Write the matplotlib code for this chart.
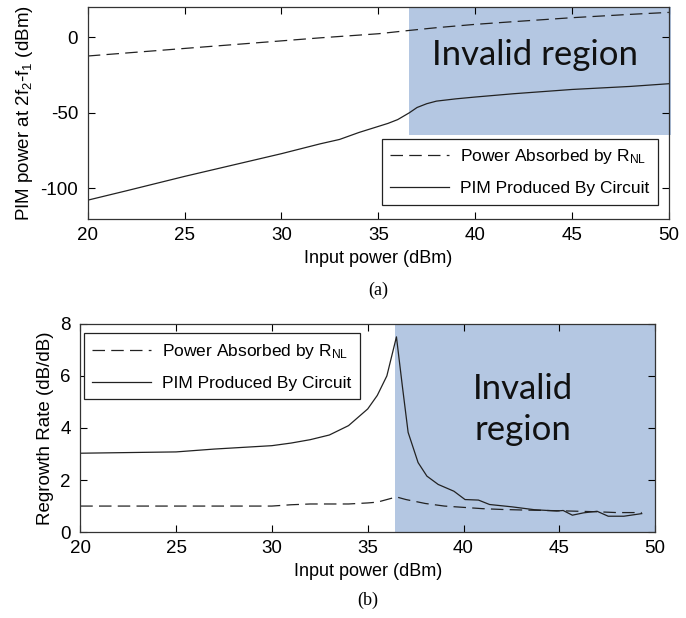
import matplotlib
matplotlib.use("Agg")
import matplotlib.pyplot as plt

# ---- data (a) ----
xa_dash = [20, 22, 25, 28, 30, 32, 35, 36.6, 38, 40, 42, 45, 48, 50]
ya_dash = [-12.5, -10.5, -7.5, -4.5, -2.5, -0.5, 2.2, 4.4, 6.2, 8.4, 10.2, 12.8, 15.0, 16.3]
xa_sol = [20, 22, 25, 28, 30, 32, 33, 34, 35, 35.5, 36, 36.6, 37, 37.5, 38, 39, 40, 42, 45, 48, 50]
ya_sol = [-107.7, -101.5, -92.0, -83.0, -77.0, -70.5, -67.6, -63.0, -59.0, -57.0, -54.5, -50.0, -46.5, -44.0, -42.3, -40.8, -39.6, -37.4, -34.6, -32.6, -30.8]

# ---- data (b) ----
xb_sol = [20, 25, 27, 30, 31, 32, 33, 34, 35, 35.5, 36, 36.5, 36.81, 37.11, 37.63, 38.09, 38.68, 39.5,
          40.08, 40.78, 41.36, 42.53, 43.7, 44.87, 45.2, 45.68, 46.27, 46.97, 47.55, 48.37, 49.3]
yb_sol = [3.03, 3.08, 3.19, 3.32, 3.42, 3.55, 3.73, 4.09, 4.73, 5.25, 6.0, 7.5, 5.6, 3.83, 2.67, 2.15, 1.83, 1.57,
          1.25, 1.23, 1.06, 0.97, 0.86, 0.81, 0.83, 0.65, 0.74, 0.80, 0.61, 0.61, 0.71]
xb_dash = [20, 25, 30, 31, 32, 34, 35, 35.5, 36.5, 37, 38, 39, 40, 41, 42, 43, 45, 46, 47, 48, 49.3]
yb_dash = [1.0, 1.0, 1.0, 1.05, 1.08, 1.08, 1.12, 1.15, 1.35, 1.25, 1.1, 1.0, 0.95, 0.9, 0.87, 0.85, 0.82, 0.8, 0.78, 0.75, 0.75]

labels = ["Power Absorbed by R$_{\\rm NL}$", "PIM Produced By Circuit"]
xticks = [20, 25, 30, 35, 40, 45, 50]

plt.rcParams['font.family'] = ['Liberation Sans', 'DejaVu Sans']
plt.rcParams['mathtext.fontset'] = 'custom'
plt.rcParams['mathtext.rm'] = 'Liberation Sans'
plt.rcParams['mathtext.it'] = 'Liberation Sans'
plt.rcParams['axes.unicode_minus'] = False

fig = plt.figure(figsize=(6.86, 6.18), dpi=100)
shade = '#b4c7e2'
lc = '#222222'

def style(ax):
    ax.tick_params(direction='in', top=True, right=True, labelsize=13.5, length=5, width=0.8)
    ax.tick_params(axis='x', pad=6)
    ax.tick_params(axis='y', pad=7)
    for s in ax.spines.values():
        s.set_linewidth(0.9)
        s.set_color('#333333')

# (a)
ax1 = fig.add_axes([0.128, 0.646, 0.847, 0.343])
ax1.axvspan(36.6, 50.1, ymin=(-65 + 120) / 140, ymax=1.0, color=shade, zorder=0, lw=0, clip_on=False)
ax1.plot(xa_dash, ya_dash, color=lc, lw=0.9, dashes=(10, 5), label=labels[0])
ax1.plot(xa_sol, ya_sol, color=lc, lw=0.9, label=labels[1])
ax1.set_xlim(20, 50)
ax1.set_ylim(-120, 20)
ax1.set_xticks(xticks)
ax1.set_yticks([-100, -50, 0])
ax1.set_xlabel("Input power (dBm)", fontsize=13)
ax1.set_ylabel("PIM power at 2f$_2$-f$_1$ (dBm)", fontsize=13.5, labelpad=4)
ax1.text(43.1, -12, "Invalid region", fontsize=25, family=['Lato', 'DejaVu Sans'],
         ha='center', va='center', color='#111111')
leg1 = ax1.legend(loc='lower right', fontsize=12.5, fancybox=False, framealpha=1,
                  edgecolor='#222222', handlelength=3.4, handletextpad=0.6, borderpad=0.5,
                  labelspacing=0.85, borderaxespad=0.0, bbox_to_anchor=(0.981, 0.066))
leg1.get_frame().set_linewidth(0.9)
style(ax1)
fig.text(0.5 * (0.128 + 0.974), 1 - 290 / 618, "(a)", ha='center', va='center',
         fontsize=13, family=['Liberation Serif', 'DejaVu Serif'])

# (b)
ax2 = fig.add_axes([0.117, 0.139, 0.838, 0.337])
ax2.axvspan(36.45, 50, color=shade, zorder=0, lw=0)
ax2.plot(xb_dash, yb_dash, color=lc, lw=0.9, dashes=(10, 5), label=labels[0])
ax2.plot(xb_sol, yb_sol, color=lc, lw=0.9, label=labels[1])
ax2.set_xlim(20, 50)
ax2.set_ylim(0, 8)
ax2.set_xticks(xticks)
ax2.set_yticks([0, 2, 4, 6, 8])
ax2.set_xlabel("Input power (dBm)", fontsize=13)
ax2.set_ylabel("Regrowth Rate (dB/dB)", fontsize=13.5, labelpad=4)
ax2.text(43.1, 4.7, "Invalid\nregion", fontsize=25, family=['Lato', 'DejaVu Sans'],
         ha='center', va='center', color='#111111', linespacing=1.35)
leg2 = ax2.legend(loc='upper left', fontsize=12.5, fancybox=False, framealpha=1,
                  edgecolor='#222222', handlelength=3.4, handletextpad=0.6, borderpad=0.5,
                  labelspacing=0.85, borderaxespad=0.0, bbox_to_anchor=(0.006, 0.955))
leg2.get_frame().set_linewidth(0.9)
style(ax2)
fig.text(0.5 * (0.117 + 0.955), 1 - 600 / 618, "(b)", ha='center', va='center',
         fontsize=13, family=['Liberation Serif', 'DejaVu Serif'])

fig.savefig("out.png", dpi=100, facecolor='white')
